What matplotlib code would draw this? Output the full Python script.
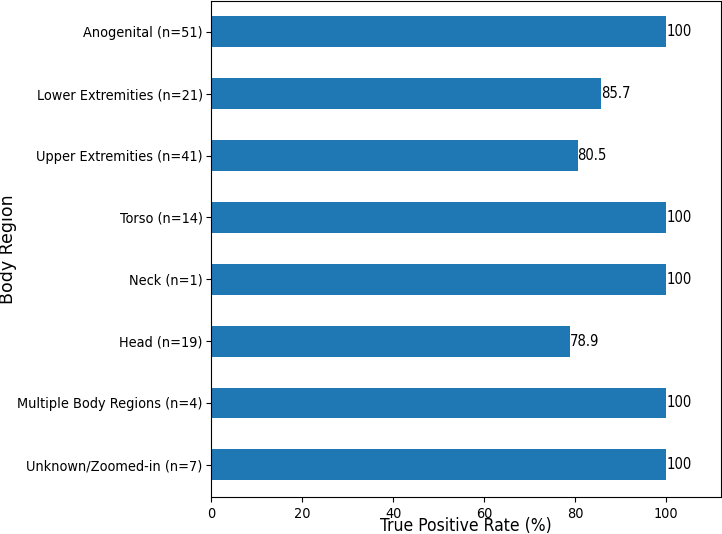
import matplotlib
matplotlib.use("Agg")
import matplotlib.pyplot as plt

regions = ["Unknown/Zoomed-in (n=7)", "Multiple Body Regions (n=4)", "Head (n=19)",
           "Neck (n=1)", "Torso (n=14)", "Upper Extremities (n=41)",
           "Lower Extremities (n=21)", "Anogenital (n=51)"]
tpr = [100, 100, 78.9, 100, 100, 80.5, 85.7, 100]
value_labels = ["100", "100", "78.9", "100", "100", "80.5", "85.7", "100"]

plt.rcParams["font.stretch"] = "condensed"

fig = plt.figure(figsize=(7.22, 5.34), dpi=100)
ax = fig.add_axes([0.2922, 0.0693, 0.7064, 0.9289])

bars = ax.barh(range(len(regions)), tpr, height=0.5, color="#1f77b4")
ax.bar_label(bars, labels=value_labels, fontsize=10.6, padding=0)

ax.set_yticks(range(len(regions)))
ax.set_yticklabels(regions, fontsize=10.4)
ax.tick_params(axis="y", pad=2.5)
ax.tick_params(axis="x", labelsize=10.4)
ax.set_xlim(0, 112)
ax.set_ylim(-0.52, 7.5)
ax.set_xlabel("True Positive Rate (%)", fontsize=12.5)
ax.xaxis.set_label_coords(0.5, -0.041)
ax.set_ylabel("Body Region", fontsize=12.5, fontstretch="normal")
ax.yaxis.set_label_coords(-0.38, 0.5)

fig.savefig("out.png", dpi=100)
